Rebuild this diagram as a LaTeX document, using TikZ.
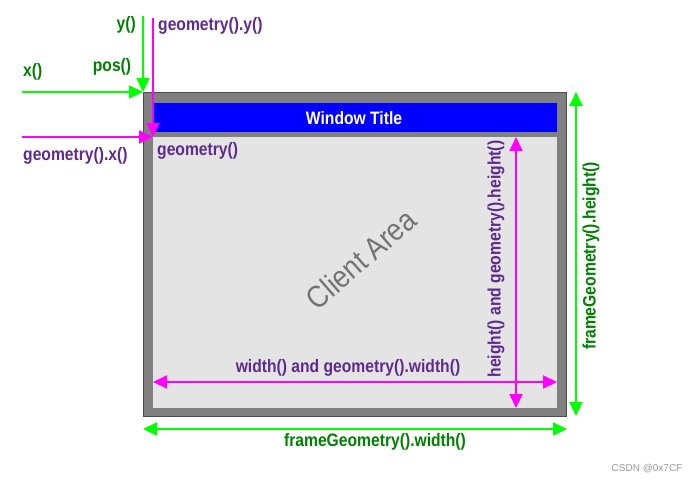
\documentclass[tikz,border=0pt]{standalone}
\usepackage{fontspec}
\setmainfont{Liberation Sans}
\newfontfamily\narrowsans[FakeStretch=0.87]{Liberation Sans}
\usetikzlibrary{arrows.meta,positioning}
\definecolor{Lime}{HTML}{00FF00}
\definecolor{Leaf}{HTML}{008000}
\definecolor{Plum}{HTML}{5E2A8E}
\definecolor{Pink}{HTML}{FF00FF}
\definecolor{Shade}{HTML}{808080}
\definecolor{Pane}{HTML}{E4E4E4}

\tikzset{
  dimline/.style={line width=2pt,-{Triangle[length=14pt,width=13pt]}},
  dimboth/.style={line width=2pt,{Triangle[length=14pt,width=13pt]}-{Triangle[length=14pt,width=13pt]}},
  lbl/.style={font=\narrowsans\fontsize{18}{20}\selectfont\bfseries,inner sep=0pt},
}

\begin{document}
\begin{tikzpicture}[x=1pt,y=-1pt]
  \useasboundingbox[fill=white] (0,0) rectangle (700,483);
  % frame and window
  \coordinate (frameNW) at (143,92);
  \coordinate (frameSE) at (566,416);
  \coordinate (clientNW) at (153,137);
  \coordinate (clientSE) at (557,408);
  \filldraw[fill=Shade,draw=black!70,line width=0.8pt] (frameNW) rectangle (frameSE);
  \fill[Pane] (clientNW) rectangle (clientSE);
  \node[fill=blue,minimum width=404pt,minimum height=29pt,inner sep=0pt,anchor=north west]
    (title) at (153,103) {};
  \node[lbl,text=white] (titletext) at (354,118) {Window Title};
  \node[font=\narrowsans\fontsize{31}{33}\selectfont,text=black!55,rotate=41,inner sep=0pt]
    (area) at (361,259) {Client Area};
  % origin arrows
  \coordinate (xstart) at (22,92);
  \coordinate (ystart) at (143,16);
  \coordinate (gxstart) at (22,137);
  \coordinate (gystart) at (153,18);
  \draw[dimline,Lime] (xstart) -- (frameNW);
  \draw[dimline,Lime] (ystart) -- (frameNW);
  \draw[dimline,Pink] (gxstart) -- (clientNW);
  \draw[dimline,Pink] (gystart) -- (clientNW);
  \node[lbl,text=Leaf,anchor=west] (xlbl) at (23,72) {x()};
  \node[lbl,text=Leaf] (poslbl) at (112,67) {pos()};
  \node[lbl,text=Leaf,anchor=east] (ylbl) at (136,25) {y()};
  \node[lbl,text=Plum,anchor=west] (gylbl) at (158,26) {geometry().y()};
  \node[lbl,text=Plum,anchor=west] (gxlbl) at (23,156) {geometry().x()};
  \node[lbl,text=Plum,anchor=west] (glbl) at (157,151) {geometry()};
  % size arrows
  \coordinate (wleft) at (153,382);
  \coordinate (wright) at (557,382);
  \coordinate (htop) at (516,137);
  \coordinate (hbot) at (516,408);
  \coordinate (fwleft) at (143,429);
  \coordinate (fwright) at (567,429);
  \coordinate (fhtop) at (576,92);
  \coordinate (fhbot) at (576,416);
  \draw[dimboth,Pink] (wleft) -- (wright);
  \draw[dimboth,Pink] (htop) -- (hbot);
  \draw[dimboth,Lime] (fwleft) -- (fwright);
  \draw[dimboth,Lime] (fhtop) -- (fhbot);
  \node[lbl,text=Plum] (wlbl) at (348,368) {width() and geometry().width()};
  \node[lbl,text=Plum,rotate=90] (hlbl) at (496,259) {height() and geometry().height()};
  \node[lbl,text=Leaf] (fwlbl) at (375,442) {frameGeometry().width()};
  \node[lbl,text=Leaf,rotate=90] (fhlbl) at (591,256) {frameGeometry().height()};
  \node[font=\fontsize{10}{12}\selectfont,text=black!40] (mark) at (647,469) {CSDN @0x7CF};
\end{tikzpicture}
\end{document}
